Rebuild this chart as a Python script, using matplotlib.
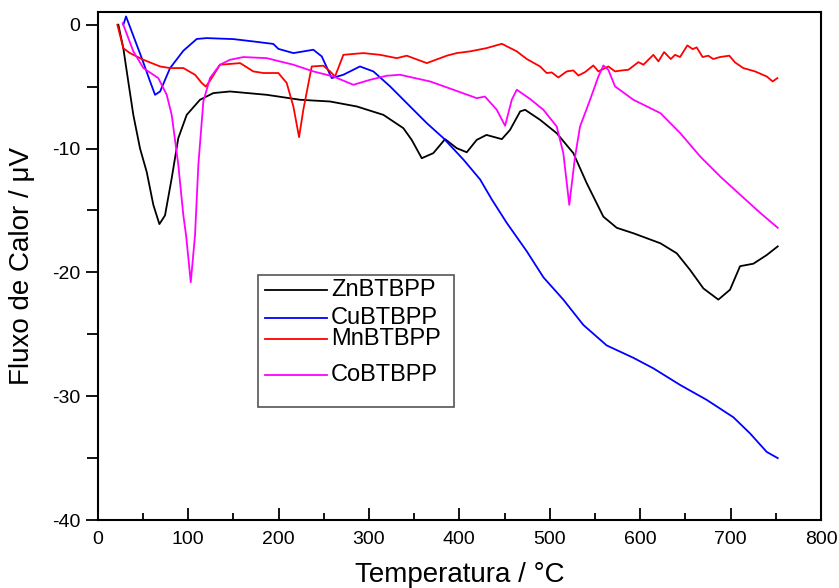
import matplotlib
matplotlib.use("Agg")
import matplotlib.pyplot as plt
from matplotlib.patches import Rectangle
from matplotlib.ticker import MultipleLocator

plt.rcParams['font.family'] = ['Liberation Sans', 'DejaVu Sans']
plt.rcParams['axes.unicode_minus'] = False

# ZnBTBPP (black)
zn_t = [22.8, 28.3, 33.8, 39.4, 46.8, 54.2, 61.5, 68.2, 74.4, 81.8, 89.1, 98.4, 113.1, 127.9,
        146.3, 187, 223.8, 257, 286.5, 316, 338, 347.3, 358.4, 371.2, 384.2, 397.1, 408.2, 419.2,
        430, 447, 456, 467.3, 472.7, 489.3, 507.7, 526.1, 540.9, 559.3, 574.1, 592.5, 622.4,
        640.5, 655.2, 670, 686.5, 699.4, 710.5, 725.2, 740, 752.2]
zn_q = [0.0, -1.9, -4.6, -7.3, -10.0, -11.9, -14.55, -16.1, -15.4, -12.4, -9.16, -7.28, -6.06, -5.52,
        -5.39, -5.66, -6.06, -6.2, -6.6, -7.28, -8.35, -9.3, -10.78, -10.37, -9.24, -9.97, -10.3, -9.3,
        -8.9, -9.24, -8.5, -7.0, -6.87, -7.68, -8.76, -10.37, -12.8, -15.5, -16.4, -16.84, -17.65,
        -18.46, -19.8, -21.3, -22.2, -21.4, -19.5, -19.3, -18.6, -17.9]

# CuBTBPP (blue)
cu_t = [28.3, 31.3, 39.4, 48.7, 57.9, 63.4, 69, 80, 94.7, 109.5, 120.6, 150, 172.1, 194.2, 199.8,
        216.4, 238.5, 247.8, 258.8, 271.7, 290, 304.9, 323.4, 345.5, 364, 382.4, 404.6, 423,
        435.8, 452.4, 474.6, 493, 515, 537.2, 563, 592.5, 614.6, 644.4, 673.7, 703.1, 721.5,
        740, 752.2]
cu_q = [0.0, 0.67, -0.9, -2.7, -4.58, -5.66, -5.39, -3.5, -2.1, -1.15, -1.08, -1.16, -1.35, -1.55, -1.95,
        -2.29, -2.02, -2.56, -4.31, -4.04, -3.37, -3.77, -4.98, -6.6, -7.95, -9.16, -10.9, -12.5,
        -14.1, -16.0, -18.3, -20.4, -22.2, -24.25, -25.9, -26.9, -27.75, -29.1, -30.3, -31.7, -33.0,
        -34.5, -35.0]

# MnBTBPP (red)
mn_t = [21.7, 28.3, 35.6, 50.5, 69, 80, 94.7, 107.6, 115, 119.7, 126, 135.2, 157.5, 172.1, 183.2,
        199.8, 209, 216.4, 222.7, 227.4, 236.7, 249.6, 257, 262.5, 271.7, 293.8, 312.3, 330.8, 341.8,
        364, 386.1, 397.1, 412, 430, 447, 463.5, 474.6, 489.3, 496.6, 502.2, 509.5, 518.8, 526.1,
        531.7, 539, 548.2, 553.8, 564.8, 572.2, 579.6, 586.9, 598.1, 603.6, 614.6, 620.2, 626.5,
        633.9, 638.6, 644.1, 652.2, 658.1, 662.5, 669.1, 675.3, 680.8, 688.2, 698.6, 704.9, 714.1,
        727.1, 740, 746.6, 751.8]
mn_q = [0.0, -1.9, -2.29, -2.83, -3.37, -3.5, -3.5, -4.04, -4.7, -5.0, -4.31, -3.23, -3.1, -3.77, -3.9,
        -3.9, -4.7, -6.6, -9.08, -6.87, -3.37, -3.31, -3.77, -4.18, -2.43, -2.29, -2.43, -2.7, -2.5,
        -3.1, -2.5, -2.29, -2.15, -1.89, -1.54, -2.15, -2.77, -3.37, -3.9, -3.85, -4.26, -3.77, -3.69,
        -4.1, -3.83, -3.29, -3.77, -3.37, -3.77, -3.69, -3.64, -3.02, -3.23, -2.43, -2.96, -2.21,
        -2.77, -2.43, -2.61, -1.67, -1.97, -1.83, -2.61, -2.5, -2.77, -2.61, -2.5, -3.04, -3.5,
        -3.77, -4.18, -4.58, -4.31]

# CoBTBPP (magenta)
co_t = [27.6, 39.4, 50.5, 67, 76.3, 81.8, 89.1, 94.7, 97.7, 102.9, 107.6, 111.3, 116.8, 124.2,
        135.2, 146.3, 161.1, 187, 216.4, 238.5, 260.6, 282.8, 301.1, 319.7, 334.4, 367.6, 393.4, 419.2,
        428.3, 441.4, 450.6, 458, 463.5, 478.3, 493, 507.7, 515, 521.6, 528, 533.5, 544.6,
        553.8, 559.3, 564.8, 572.2, 592.5, 622.4, 644.4, 666.5, 688.6, 710.8, 732.9, 752.2]
co_q = [0.13, -2.16, -3.5, -4.31, -5.66, -7.28, -11.3, -15.4, -17.0, -20.8, -17.0, -11.3, -6.2, -4.3,
        -3.23, -2.83, -2.61, -2.7, -3.23, -3.77, -4.18, -4.85, -4.45, -4.12, -4.04, -4.58, -5.25, -5.93,
        -5.8, -6.87, -8.16, -6.06, -5.25, -6.0, -6.87, -8.22, -10.37, -14.55, -10.65, -8.22, -6.06,
        -4.18, -3.29, -3.64, -4.98, -6.06, -7.14, -8.76, -10.65, -12.26, -13.74, -15.2, -16.4]

series = [
    ("ZnBTBPP", zn_t, zn_q, "black"),
    ("CuBTBPP", cu_t, cu_q, "#0000ff"),
    ("MnBTBPP", mn_t, mn_q, "#ff0000"),
    ("CoBTBPP", co_t, co_q, "#ff00ff"),
]

fig = plt.figure(figsize=(8.39, 5.88), dpi=100)
ax = fig.add_axes([0.1165, 0.1156, 0.862, 0.8634])

for name, t, q, c in series:
    ax.plot(t, q, color=c, lw=1.3)

ax.set_xlim(0, 800)
ax.set_ylim(-40, 1)
ax.xaxis.set_major_locator(MultipleLocator(100))
ax.xaxis.set_minor_locator(MultipleLocator(50))
ax.yaxis.set_major_locator(MultipleLocator(10))
ax.yaxis.set_minor_locator(MultipleLocator(5))
ax.tick_params(axis='x', which='major', direction='in', length=9, width=1.3, labelsize=14, pad=8)
ax.tick_params(axis='x', which='minor', direction='in', length=5, width=1.3)
ax.tick_params(axis='y', which='major', direction='out', length=9, width=1.3, labelsize=14)
ax.tick_params(axis='y', which='minor', direction='out', length=8, width=1.3)
for sp in ax.spines.values():
    sp.set_linewidth(1.5)

ax.set_xlabel("Temperatura / °C", fontsize=20, labelpad=10)
ax.set_ylabel("Fluxo de Calor / μV", fontsize=20, labelpad=12)

# legend drawn by hand, entries are unevenly spaced like in the original
ax.add_patch(Rectangle((0.2216, 0.2226), 0.271, 0.26, transform=ax.transAxes,
                       facecolor='white', edgecolor='#555555', lw=1.2, zorder=5))
leg_y = [0.453, 0.398, 0.3565, 0.2856]
for (name, t, q, c), yy in zip(series, leg_y):
    ax.plot([0.2314, 0.3171], [yy, yy], color=c, lw=1.3, transform=ax.transAxes, zorder=6)
    ax.text(0.3225, yy, name, transform=ax.transAxes, fontsize=17, va='center', ha='left', zorder=6)

fig.savefig("out.png", dpi=100)
